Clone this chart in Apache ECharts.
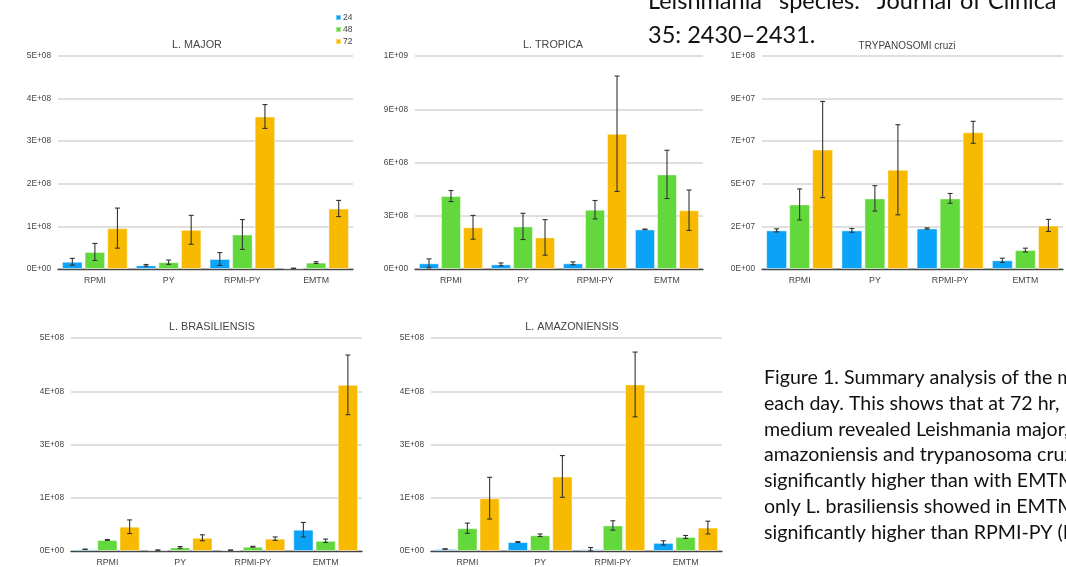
<!DOCTYPE html>
<html>
<head>
<meta charset="utf-8">
<script src="https://cdn.jsdelivr.net/npm/echarts@6/dist/echarts.min.js"></script>
<style>
  html, body { margin: 0; padding: 0; background: #fff; }
  #chart { width: 1066px; height: 567px; }
</style>
</head>
<body>
<div id="chart"></div>
<script>
// categories and series names
const categories = ['RPMI', 'PY', 'RPMI-PY', 'EMTM'];
const hours = ['24', '48', '72'];
const chartTitles = ['L. MAJOR', 'L. TROPICA', 'TRYPANOSOMI cruzi', 'L. BRASILIENSIS', 'L. AMAZONIENSIS'];

// mean values, one row per hour (24, 48, 72), columns follow categories
const majorMean = [[1.7e7, 0.86e7, 2.35e7, 0.15e7], [4.0e7, 1.6e7, 8.1e7, 1.5e7], [9.6e7, 9.2e7, 3.58e8, 1.42e8]];
const majorErr = [[0.8e7, 0.2e7, 1.5e7, 0.05e7], [2.0e7, 0.5e7, 3.5e7, 0.2e7], [4.7e7, 3.4e7, 2.8e7, 1.9e7]];

const tropicaMean = [[3.2e7, 2.6e7, 3.2e7, 2.23e8], [4.11e8, 2.40e8, 3.34e8, 5.33e8], [2.35e8, 1.78e8, 7.62e8, 3.31e8]];
const tropicaErr = [[2.5e7, 0.8e7, 0.8e7, 0.2e7], [3.1e7, 7.4e7, 5.2e7, 1.36e8], [6.7e7, 1.0e8, 3.25e8, 1.14e8]];

const cruziMean = [[2.04e7, 2.04e7, 2.14e7, 0.46e7], [3.41e7, 3.73e7, 3.73e7, 1.0e7], [6.31e7, 5.24e7, 7.22e7, 2.30e7]];
const cruziErr = [[0.08e7, 0.1e7, 0.03e7, 0.11e7], [0.82e7, 0.67e7, 0.26e7, 0.1e7], [2.54e7, 2.38e7, 0.58e7, 0.32e7]];

const brasilMean = [[0.4e7, 0.2e7, 0.2e7, 5.0e7], [2.6e7, 0.85e7, 1.0e7, 2.4e7], [5.7e7, 3.1e7, 2.9e7, 3.9e8]];
const brasilErr = [[0.05e7, 0.03e7, 0.03e7, 1.7e7], [0.1e7, 0.2e7, 0.1e7, 0.4e7], [1.6e7, 0.7e7, 0.4e7, 7.0e7]];

const amazonMean = [[0.47e7, 2.1e7, 0.4e7, 1.9e7], [5.35e7, 3.7e7, 6.0e7, 3.3e7], [1.24e8, 1.75e8, 3.91e8, 5.5e7]];
const amazonErr = [[0.05e7, 0.1e7, 0.4e7, 0.5e7], [1.2e7, 0.3e7, 1.1e7, 0.35e7], [4.9e7, 4.9e7, 7.6e7, 1.5e7]];

// value axis ranges
const axisMax = [5e8, 1.2e9, 1.125e8, 5e8, 5e8];
const axisInterval = [1e8, 3e8, 2.25e7, 1.25e8, 1.25e8];

const means = [majorMean, tropicaMean, cruziMean, brasilMean, amazonMean];
const errs = [majorErr, tropicaErr, cruziErr, brasilErr, amazonErr];

// layout of the five panels
const grids = [
  { left: 58, top: 56, width: 295, height: 213 },
  { left: 415, top: 56, width: 288, height: 213 },
  { left: 762, top: 56, width: 301, height: 213 },
  { left: 71, top: 338, width: 291, height: 215 },
  { left: 431, top: 338, width: 291, height: 215 }
];
const titlePos = [[192, 35], [548, 35], [902, 36], [207, 317], [567, 317]];
const colors = ['#0aa3f7', '#62d83c', '#f7ba00'];

const sci = v => {
  const [m, e] = Number(v).toExponential(0).toUpperCase().split('E');
  return m + 'E' + e[0] + e.slice(1).padStart(2, '0');
};

const catGap = 0.11;
const barGap = 0.1;

const errorRenderer = idx => (params, api) => {
  const x = api.value(0);
  const lo = api.coord([x, api.value(1)]);
  const hi = api.coord([x, api.value(2)]);
  const band = api.size([1, 0])[0];
  const w = band * (1 - catGap) / (3 + 2 * barGap);
  const cx = lo[0] - (3 + 2 * barGap) * w / 2 + idx * (1 + barGap) * w + w / 2;
  const cap = 2.5;
  const style = { stroke: '#333', lineWidth: 1.1 };
  return {
    type: 'group',
    children: [
      { type: 'line', shape: { x1: cx, y1: hi[1], x2: cx, y2: lo[1] }, style },
      { type: 'line', shape: { x1: cx - cap, y1: hi[1], x2: cx + cap, y2: hi[1] }, style },
      { type: 'line', shape: { x1: cx - cap, y1: lo[1], x2: cx + cap, y2: lo[1] }, style }
    ]
  };
};

const font = 'Liberation Sans, Arial, sans-serif';
const xAxis = [], yAxis = [], series = [], title = [];

grids.forEach((g, p) => {
  title.push({
    text: chartTitles[p],
    left: titlePos[p][0],
    top: titlePos[p][1],
    textAlign: 'center',
    textStyle: { fontSize: p === 2 ? 10 : 10.8, fontWeight: 'normal', color: '#444', fontFamily: font }
  });
  xAxis.push({
    type: 'category',
    gridIndex: p,
    data: categories,
    axisTick: { show: false },
    axisLine: { lineStyle: { color: '#444', width: 1.3 } },
    axisLabel: { fontSize: 8.8, color: '#444', margin: 7, fontFamily: font }
  });
  yAxis.push({
    type: 'value',
    gridIndex: p,
    min: 0,
    max: axisMax[p],
    interval: axisInterval[p],
    axisLine: { show: false },
    axisTick: { show: false },
    axisLabel: { fontSize: 8.3, color: '#444', margin: 7, fontFamily: font, formatter: sci },
    splitLine: { lineStyle: { color: '#d4d4d4', width: 1.5 } }
  });
  hours.forEach((h, i) => {
    series.push({
      name: h,
      type: 'bar',
      xAxisIndex: p,
      yAxisIndex: p,
      data: means[p][i],
      barCategoryGap: (catGap * 100) + '%',
      barGap: (barGap * 100) + '%',
      itemStyle: { color: colors[i], borderColor: 'rgba(255,255,255,0.45)', borderWidth: 1 },
      z: 2
    });
  });
  hours.forEach((h, i) => {
    series.push({
      type: 'custom',
      xAxisIndex: p,
      yAxisIndex: p,
      renderItem: errorRenderer(i),
      encode: { x: 0, y: [1, 2] },
      data: means[p][i].map((m, c) => [c, Math.max(0, m - errs[p][i][c]), m + errs[p][i][c]]),
      z: 3
    });
  });
});

const captionLines = [
  'Figure 1. Summary analysis of the mean',
  'each day. This shows that at 72 hr, RPMI-PY',
  'medium revealed Leishmania major, L.',
  'amazoniensis and trypanosoma cruzi',
  'significantly higher than with EMTM,',
  'only L. brasiliensis showed in EMTM',
  'significantly higher than RPMI-PY (P'
];

const txt = (text, x, y, size) => ({
  type: 'text',
  x, y,
  style: {
    text,
    fill: '#111',
    font: size + 'px Lato, "Noto Sans", sans-serif',
    textAlign: 'left', align: 'left',
    textVerticalAlign: 'middle', verticalAlign: 'middle'
  }
});

const graphic = [
  txt('Leishmania', 648, 1, 23.5),
  txt('species.', 779, 1, 23.5),
  txt('Journal', 877, 1, 23.5),
  txt('of', 960, 1, 23.5),
  txt('Clinica', 988, 1, 23.5),
  txt('35: 2430\u20132431.', 648, 35, 23.5)
];
captionLines.forEach((line, i) => graphic.push(txt(line, 764, 378 + i * 25.7, 19.6)));

const chart = echarts.init(document.getElementById('chart'));
chart.setOption({
  animation: false,
  color: colors,
  title,
  legend: {
    data: hours,
    orient: 'vertical',
    left: 330,
    top: 8,
    itemWidth: 5,
    itemHeight: 5,
    itemGap: 3,
    icon: 'rect',
    textStyle: { fontSize: 8.5, color: '#444', fontFamily: font, padding: [0, 0, 0, -3] }
  },
  grid: grids,
  xAxis,
  yAxis,
  series,
  graphic
});
</script>
</body>
</html>
